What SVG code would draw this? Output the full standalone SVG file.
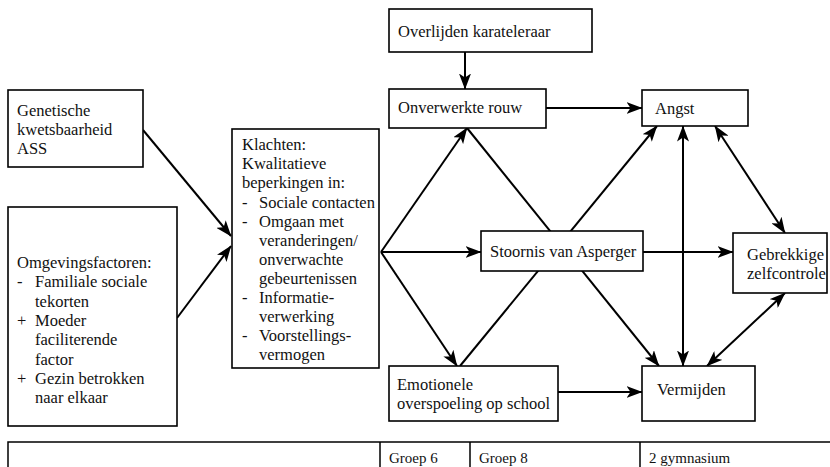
<svg xmlns="http://www.w3.org/2000/svg" width="830" height="467" viewBox="0 0 830 467">
<style>
  .box { fill: #fff; stroke: #000; stroke-width: 1.6; }
  .t { font-family: "Liberation Serif", "DejaVu Serif", serif; font-size: 16.5px; fill: #111; }
  .tb { font-family: "Liberation Serif", "DejaVu Serif", serif; font-size: 15px; fill: #111; }
  .c line { stroke: #000; stroke-width: 2; fill: none; }
  .tbl { stroke: #000; stroke-width: 1.5; fill: none; }
</style>
<defs>
  <marker id="ah" viewBox="0 0 16 12" markerWidth="16" markerHeight="12" refX="15.5" refY="6" orient="auto-start-reverse" markerUnits="userSpaceOnUse">
    <path d="M0,0 L16,6 L0,12 L4,6 z" fill="#000"/>
  </marker>
</defs>
<rect width="830" height="467" fill="#fff"/>

<g id="connectors" class="c">
  <line x1="465" y1="52" x2="465" y2="89" marker-end="url(#ah)"/>
  <line x1="546" y1="108" x2="642" y2="108" marker-end="url(#ah)"/>
  <line x1="381" y1="252" x2="467" y2="128" marker-end="url(#ah)"/>
  <line x1="381" y1="252" x2="481" y2="252" marker-end="url(#ah)"/>
  <line x1="381" y1="252" x2="457" y2="366" marker-end="url(#ah)"/>
  <line x1="467" y1="128" x2="659" y2="366" marker-end="url(#ah)"/>
  <line x1="460" y1="366" x2="657" y2="126" marker-end="url(#ah)"/>
  <line x1="643" y1="252" x2="733" y2="252" marker-end="url(#ah)"/>
  <line x1="683" y1="126" x2="683" y2="366" marker-start="url(#ah)" marker-end="url(#ah)"/>
  <line x1="715" y1="126" x2="785" y2="233" marker-start="url(#ah)" marker-end="url(#ah)"/>
  <line x1="785" y1="293" x2="707" y2="366" marker-start="url(#ah)" marker-end="url(#ah)"/>
  <line x1="558" y1="392" x2="642" y2="392" marker-end="url(#ah)"/>
  <line x1="143" y1="130" x2="231" y2="236" marker-end="url(#ah)"/>
  <line x1="177" y1="318" x2="231" y2="246" marker-end="url(#ah)"/>
</g>

<g id="genetisch">
  <rect class="box" x="8" y="90" width="135" height="77"/>
  <text class="t" x="17" y="116">Genetische</text>
  <text class="t" x="17" y="135">kwetsbaarheid</text>
  <text class="t" x="17" y="154">ASS</text>
</g>

<g id="omgeving">
  <rect class="box" x="8" y="207" width="169" height="219"/>
  <text class="t" x="17" y="268">Omgevingsfactoren:</text>
  <text class="t" x="17" y="287">-</text><text class="t" x="35" y="287">Familiale sociale</text>
  <text class="t" x="35" y="307">tekorten</text>
  <text class="t" x="17" y="326">+</text><text class="t" x="35" y="326">Moeder</text>
  <text class="t" x="35" y="345">faciliterende</text>
  <text class="t" x="35" y="365">factor</text>
  <text class="t" x="17" y="384">+</text><text class="t" x="35" y="384">Gezin betrokken</text>
  <text class="t" x="35" y="403">naar elkaar</text>
</g>

<g id="klachten">
  <rect class="box" x="232" y="129" width="147" height="239"/>
  <text class="t" x="242" y="150">Klachten:</text>
  <text class="t" x="242" y="169">Kwalitatieve</text>
  <text class="t" x="242" y="188">beperkingen in:</text>
  <text class="t" x="242" y="208">-</text><text class="t" x="259" y="208">Sociale contacten</text>
  <text class="t" x="242" y="227">-</text><text class="t" x="259" y="227">Omgaan met</text>
  <text class="t" x="259" y="246">veranderingen/</text>
  <text class="t" x="259" y="265">onverwachte</text>
  <text class="t" x="259" y="284">gebeurtenissen</text>
  <text class="t" x="242" y="303">-</text><text class="t" x="259" y="303">Informatie-</text>
  <text class="t" x="259" y="322">verwerking</text>
  <text class="t" x="242" y="341">-</text><text class="t" x="259" y="341">Voorstellings-</text>
  <text class="t" x="259" y="360">vermogen</text>
</g>

<g id="overlijden">
  <rect class="box" x="389" y="9" width="203" height="43"/>
  <text class="t" x="398" y="37">Overlijden karateleraar</text>
</g>

<g id="rouw">
  <rect class="box" x="389" y="89" width="157" height="39"/>
  <text class="t" x="398" y="113">Onverwerkte rouw</text>
</g>

<g id="stoornis">
  <rect class="box" x="481" y="231" width="162" height="40"/>
  <text class="t" x="490" y="257">Stoornis van Asperger</text>
</g>

<g id="emotionele">
  <rect class="box" x="389" y="366" width="169" height="55"/>
  <text class="t" x="397" y="390">Emotionele</text>
  <text class="t" x="397" y="409">overspoeling op school</text>
</g>

<g id="angst">
  <rect class="box" x="642" y="90" width="106" height="36"/>
  <text class="t" x="655" y="114">Angst</text>
</g>

<g id="gebrekkig">
  <rect class="box" x="733" y="233" width="94" height="60"/>
  <text class="t" x="747" y="260">Gebrekkige</text>
  <text class="t" x="747" y="279">zelfcontrole</text>
</g>

<g id="vermijden">
  <rect class="box" x="642" y="366" width="113" height="55"/>
  <text class="t" x="657" y="395">Vermijden</text>
</g>

<g id="tabel">
  <path class="tbl" d="M8,470 V442 H832 M380,442 V470 M470,442 V470 M640,442 V470"/>
  <text class="tb" x="389" y="463">Groep 6</text>
  <text class="tb" x="479" y="463">Groep 8</text>
  <text class="tb" x="649" y="463">2 gymnasium</text>
</g>
</svg>
